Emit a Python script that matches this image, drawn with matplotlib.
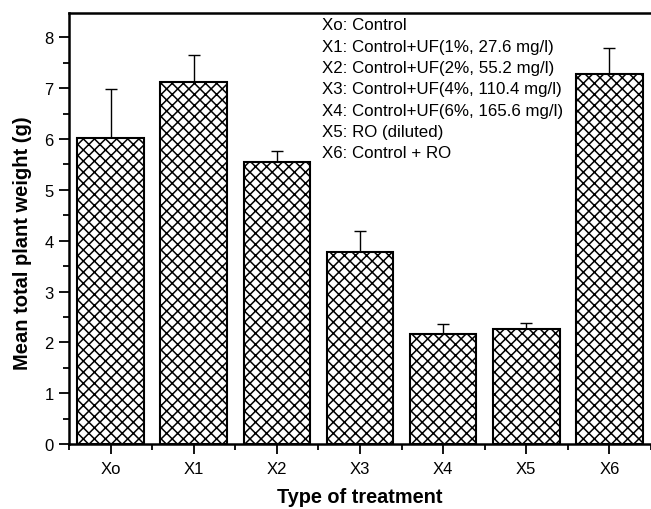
import matplotlib
matplotlib.use("Agg")
import matplotlib.pyplot as plt
import numpy as np

categories = ["Xo", "X1", "X2", "X3", "X4", "X5", "X6"]
means = [6.02, 7.13, 5.54, 3.77, 2.165, 2.26, 7.27]
errors = [0.97, 0.53, 0.23, 0.42, 0.20, 0.13, 0.53]
legend_lines = [
    "Xo: Control",
    "X1: Control+UF(1%, 27.6 mg/l)",
    "X2: Control+UF(2%, 55.2 mg/l)",
    "X3: Control+UF(4%, 110.4 mg/l)",
    "X4: Control+UF(6%, 165.6 mg/l)",
    "X5: RO (diluted)",
    "X6: Control + RO",
]

plt.rcParams['font.family'] = ['Liberation Sans', 'DejaVu Sans']
plt.rcParams['hatch.linewidth'] = 1.1

fig = plt.figure(figsize=(6.51, 5.10), dpi=100)
ax = fig.add_axes([69/651, 1-445/510, 1-69/651, (445-14)/510])

x = np.arange(len(categories))
ax.bar(x, means, width=0.8, color='white', edgecolor='black', linewidth=1.5,
       hatch='xxx', zorder=2)
ax.errorbar(x, means, yerr=[np.zeros(len(errors)), errors], fmt='none',
            ecolor='black', elinewidth=1.0, capsize=4.5, capthick=1.0, zorder=1)

ax.set_xlim(-0.5, 6.5)
ax.set_ylim(0, 8.48)
ax.set_xticks(x)
ax.set_xticklabels(categories)
ax.set_xticks(np.arange(-0.5, 7.0, 1.0), minor=True)
ax.set_yticks(np.arange(0, 9, 1))
ax.set_yticks(np.arange(0.5, 8.5, 1.0), minor=True)
ax.tick_params(axis='both', which='major', direction='out', length=7, width=1.3,
               labelsize=12, colors='black')
ax.tick_params(axis='both', which='minor', direction='out', length=4, width=1.3)
ax.tick_params(axis='x', which='major', pad=5)
ax.tick_params(axis='y', which='major', pad=4)

for s in ['left', 'bottom', 'top']:
    ax.spines[s].set_linewidth(1.8)
ax.spines['right'].set_visible(False)

ax.set_xlabel("Type of treatment", fontsize=14.3, fontweight='bold')
ax.xaxis.set_label_coords(0.5, -(498-445)/431)
ax.xaxis.label.set_va('center')
ax.set_ylabel("Mean total plant weight (g)", fontsize=14.5, fontweight='bold')
ax.yaxis.set_label_coords(-(69-23)/582, (445-243.5)/431)
ax.yaxis.label.set_va('center')

y0 = (445-26)/431
dy = 21.3/431
for i, line in enumerate(legend_lines):
    ax.text((322-69)/582, y0 - i*dy, line, transform=ax.transAxes,
            fontsize=12.2, va='center', ha='left')

fig.savefig("out.png", dpi=100)
